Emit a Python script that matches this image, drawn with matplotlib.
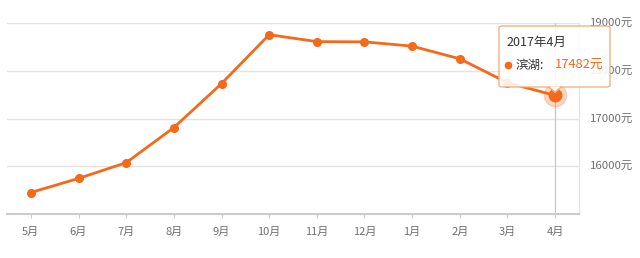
import matplotlib
matplotlib.use("Agg")
import matplotlib.pyplot as plt
from matplotlib.patches import FancyBboxPatch, Polygon

plt.rcParams['font.family'] = ['Noto Sans CJK SC', 'DejaVu Sans']

months = ["5月", "6月", "7月", "8月", "9月", "10月", "11月", "12月", "1月", "2月", "3月", "4月"]
prices = [15450, 15745, 16075, 16810, 17730, 18755, 18610, 18605, 18515, 18250, 17750, 17482]
y_ticks = [16000, 17000, 18000, 19000]
tip_title = "2017年4月"
tip_name = "滨湖:"
tip_value = "17482元"

orange = '#f4691a'
grid_col = '#e3e3e3'
text_col = '#707070'

W, H = 640, 258
fig = plt.figure(figsize=(W / 100, H / 100), dpi=100)

def fx(px):
    return px / W

def fy(py):
    return 1 - py / H

ax = fig.add_axes([fx(7), fy(214), fx(579) - fx(7), fy(23) - fy(214)])
x = list(range(len(months)))

ax.set_xlim(-0.5, len(months) - 0.5)
ax.set_ylim(15000, 19000)
ax.set_yticks(y_ticks)
ax.set_yticklabels([f"{v}元" for v in y_ticks])
ax.yaxis.tick_right()
ax.set_xticks(x)
ax.set_xticklabels(months)
ax.tick_params(axis='y', length=0, pad=8, labelsize=8.2, labelcolor=text_col)
ax.tick_params(axis='x', length=3, width=0.8, color='#cccccc', pad=6, labelsize=8, labelcolor=text_col)
ax.grid(axis='y', color=grid_col, linewidth=1)
for s in ['left', 'top']:
    ax.spines[s].set_visible(False)
ax.spines['right'].set_color(grid_col)
ax.spines['bottom'].set_color('#cccccc')
ax.spines['bottom'].set_linewidth(1.5)
ax.set_axisbelow(True)

# hover vertical line
ax.axvline(x[-1], color='#c8c8c8', linewidth=0.9, zorder=1)

ax.plot(x, prices, color=orange, linewidth=2, marker='o', markersize=5.5, zorder=3)
# highlighted last point
ax.plot(x[-1], prices[-1], 'o', color=orange, markersize=16, alpha=0.25, zorder=2)
ax.plot(x[-1], prices[-1], 'o', color=orange, markersize=9, zorder=4)

# tooltip
box = FancyBboxPatch((fx(499), fy(87)), fx(610) - fx(499), fy(26) - fy(87),
                     boxstyle="round,pad=0,rounding_size=0.006",
                     transform=fig.transFigure, facecolor='white', alpha=0.88,
                     edgecolor='#f3a877', linewidth=1, zorder=10)
fig.add_artist(box)
tri = Polygon([(fx(549), fy(86.5)), (fx(561), fy(86.5)), (fx(555), fy(92))],
              closed=True, transform=fig.transFigure, facecolor='white',
              edgecolor='none', zorder=11)
fig.add_artist(tri)
fig.add_artist(plt.Line2D([fx(549), fx(555), fx(561)], [fy(87), fy(92.5), fy(87)],
                          transform=fig.transFigure, color='#f3a877', linewidth=1, zorder=12))
fig.text(fx(506), fy(42), tip_title, fontsize=9, color='#333333', va='center', ha='left', zorder=13)
fig.add_artist(plt.Line2D([fx(508)], [fy(65)], transform=fig.transFigure, marker='o',
                          markersize=4.5, color=orange, linestyle='none', zorder=13))
fig.text(fx(515.5), fy(65), tip_name, fontsize=9, color='#333333', va='center', ha='left', zorder=13)
fig.text(fx(555), fy(65), tip_value, fontsize=9.3, color=orange, va='center', ha='left', zorder=13)

fig.savefig("out.png", dpi=100)
